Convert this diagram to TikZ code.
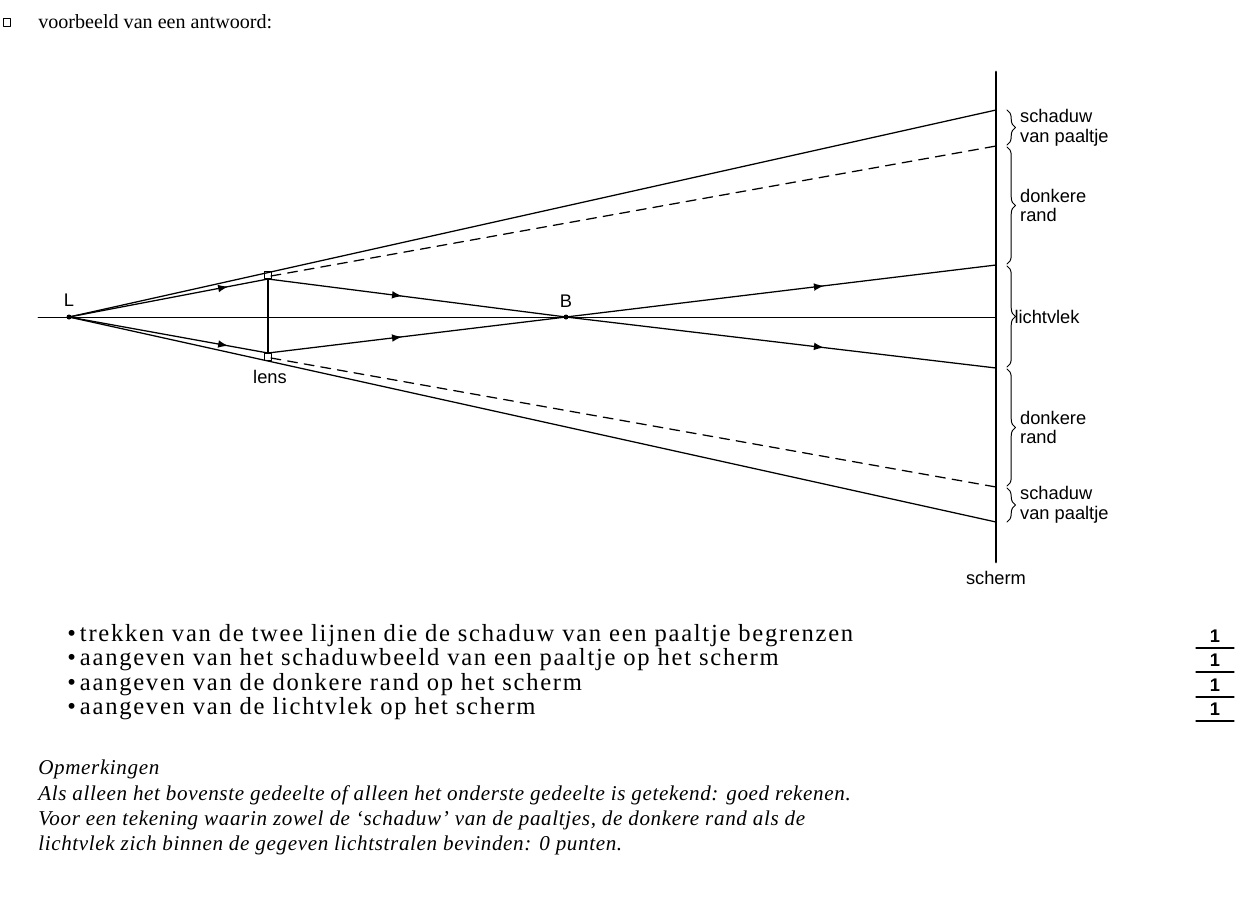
\documentclass[tikz,border=0pt]{standalone}
\usepackage{fontspec}
\setmainfont{Liberation Serif}
\newfontfamily\labelfont{Liberation Sans}
\newfontfamily\spacedfont[LetterSpace=7]{Liberation Serif}
\newfontfamily\spaceditfont[LetterSpace=3,ItalicFont={* Italic}]{Liberation Serif}
\usetikzlibrary{calc}
\usetikzlibrary{decorations.pathreplacing,decorations.markings}
\tikzstyle{every node}=[font=\labelfont\fontsize{13}{14}\selectfont]
\tikzset{
  ray/.style={line width=0.9pt},
  midarrow/.style={ray,decoration={markings,mark=at position #1 with {\arrow[scale=1.3]{latex}}},postaction={decorate}},
  shadow/.style={line width=0.9pt,dash pattern=on 7pt off 5pt},
  brc/.style={decorate,decoration={brace,amplitude=6pt},line width=0.7pt},
  txt/.style={anchor=west,font=\fontsize{14.3}{18}\selectfont,inner sep=0pt},
  item/.style={anchor=west,font=\spacedfont\fontsize{17.5}{18}\selectfont,inner sep=0pt},
  opm/.style={anchor=west,font=\spaceditfont\itshape\fontsize{15}{18}\selectfont,inner sep=0pt},
  score/.style={font=\labelfont\bfseries\fontsize{13}{14}\selectfont,inner sep=0pt}
}

\begin{document}
\begin{tikzpicture}[line cap=round,line join=round,x=0.025cm,y=-0.025cm]
\useasboundingbox (0,0) rectangle (1235,923);
% header
\draw[line width=0.7pt] (3,18) rectangle (10,26);
\node[txt] (head) at (38,22) {voorbeeld van een antwoord:};
% points
\coordinate (L) at (69,317);
\coordinate (B) at (566,317);
\coordinate (lt) at (268,279);
\coordinate (lb) at (268,353);
\coordinate (st) at (268,275);
\coordinate (sb) at (268,357);
\coordinate (stop) at (996,72);
\coordinate (sbot) at (996,562);
% optical axis, screen, lens
\draw[line width=0.5pt] (38,317) -- (995,317);
\draw[line width=2pt] (stop) -- (sbot);
\draw[ray] (lt) -- (lb);
\draw[line width=0.6pt,fill=white] ($(st)+(-3.5,-3.5)$) rectangle ($(st)+(3.5,3.5)$);
\draw[line width=0.6pt,fill=white] ($(sb)+(-3.5,-3.5)$) rectangle ($(sb)+(3.5,3.5)$);
% outer rays
\draw[ray] (L) -- (996,110);
\draw[ray] (L) -- (996,522);
\draw[shadow] (271,276) -- (996,146);
\draw[shadow] (271,358) -- (996,487);
% rays through lens
\draw[midarrow=0.8] (L) -- (lt);
\draw[midarrow=0.8] (L) -- (lb);
\draw[midarrow=0.45] (lt) -- (B);
\draw[midarrow=0.45] (lb) -- (B);
\draw[midarrow=0.6] (B) -- (996,265);
\draw[midarrow=0.6] (B) -- (996,368);
\fill (L) circle (2.5);
\fill (B) circle (2.5);
\node (lblL) at (69,300) {L};
\node (lblB) at (566,301) {B};
\node (lens) at (270,377) {lens};
\node (scherm) at (996,578) {scherm};
% braces
\draw[brc] (1007,110) -- (1007,145) node[midway,right=9pt,align=left,inner sep=0pt] {schaduw\\van paaltje};
\draw[brc] (1007,147) -- (1007,264) node[midway,right=9pt,align=left,inner sep=0pt] {donkere\\rand};
\draw[brc] (1007,266) -- (1007,367) node[midway,right=5pt,inner sep=0pt] {lichtvlek};
\draw[brc] (1007,369) -- (1007,486) node[midway,right=9pt,align=left,inner sep=0pt] {donkere\\rand};
\draw[brc] (1007,488) -- (1007,522) node[midway,right=9pt,align=left,inner sep=0pt] {schaduw\\van paaltje};
% scoring
\foreach \y/\t in {636/trekken van de twee lijnen die de schaduw van een paaltje begrenzen,
                   660/aangeven van het schaduwbeeld van een paaltje op het scherm,
                   685/aangeven van de donkere rand op het scherm,
                   709/aangeven van de lichtvlek op het scherm}{
  \node[item] at (67,\y) {\textbullet\,\t};
  \node[score] at (1215,\y) {1};
  \draw[line width=0.8pt] (1196,\y+12) -- (1234,\y+12);
}
% remarks
\node[opm] (opm) at (38,769) {Opmerkingen};
\node[opm] at (38,795) {Als alleen het bovenste gedeelte of alleen het onderste gedeelte is getekend: goed rekenen.};
\node[opm] at (38,820) {Voor een tekening waarin zowel de ‘schaduw’ van de paaltjes, de donkere rand als de};
\node[opm] at (38,845) {lichtvlek zich binnen de gegeven lichtstralen bevinden: 0 punten.};
\end{tikzpicture}
\end{document}
